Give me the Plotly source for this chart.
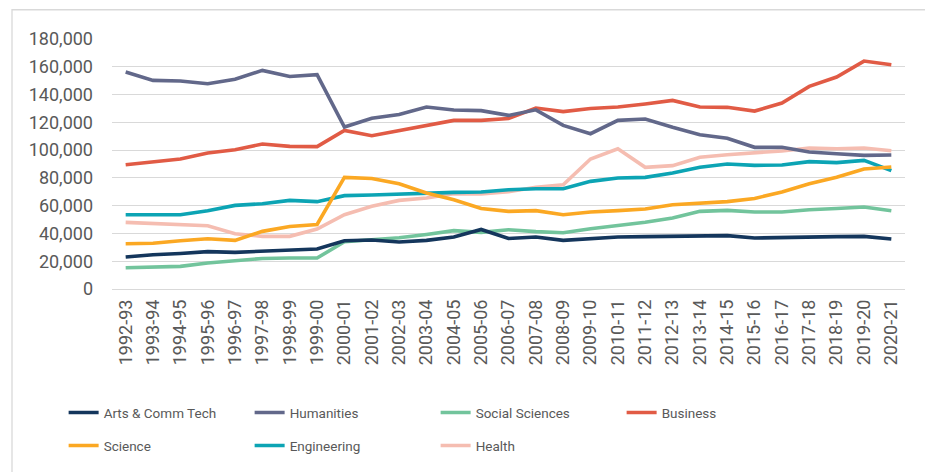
import plotly.graph_objects as go

years = ["1992-93", "1993-94", "1994-95", "1995-96", "1996-97", "1997-98", "1998-99",
         "1999-00", "2000-01", "2001-02", "2002-03", "2003-04", "2004-05", "2005-06",
         "2006-07", "2007-08", "2008-09", "2009-10", "2010-11", "2011-12", "2012-13",
         "2013-14", "2014-15", "2015-16", "2016-17", "2017-18", "2018-19", "2019-20",
         "2020-21"]

arts = [23000, 24700, 25600, 26900, 26400, 27100, 27800, 28800, 34800, 35300, 33800,
        35000, 37400, 42900, 36400, 37400, 35000, 36400, 37400, 37700, 37900, 38100,
        38400, 36700, 37200, 37700, 37700, 37900, 36000]
humanities = [156200, 150200, 149800, 147800, 151000, 157400, 153000, 154300, 116600,
              123000, 125700, 131000, 128900, 128400, 125000, 129000, 117800, 111800,
              121400, 122400, 116400, 111000, 108500, 102000, 102000, 98600, 97400,
              96200, 96500]
social = [15300, 16000, 16300, 18700, 20400, 22000, 22300, 22300, 34000, 35500, 36900,
          39300, 42000, 40800, 42700, 41300, 40500, 43400, 45800, 48000, 51100, 55900,
          56600, 55400, 55400, 57100, 58000, 59000, 56400]
business = [89500, 91400, 93600, 97900, 100300, 104400, 102700, 102500, 114200, 110400,
            114200, 118000, 121400, 121400, 122800, 130300, 127700, 130000, 131000,
            133200, 135800, 131000, 130800, 128100, 133900, 145900, 152600, 164100,
            161500]
science = [32600, 32900, 34800, 36200, 35000, 41500, 45000, 46500, 80400, 79600, 75800,
           69100, 64300, 58000, 55900, 56400, 53500, 55400, 56400, 57600, 60700, 61900,
           62900, 65200, 69800, 75800, 80400, 86400, 87800]
engineering = [53500, 53500, 53500, 56400, 60200, 61400, 63800, 62900, 67200, 67700,
               68400, 69100, 69600, 69800, 71500, 72200, 72200, 77500, 79900, 80400,
               83500, 87600, 90000, 89000, 89300, 91700, 91000, 92600, 85200]
health = [48000, 47000, 46300, 45600, 39800, 37900, 37900, 43200, 53500, 59500, 63800,
          65500, 68600, 68400, 70000, 73200, 75100, 93600, 101000, 87600, 88800, 94800,
          96700, 97900, 99400, 101500, 101000, 101500, 99600]

y_ticks = [0, 20000, 40000, 60000, 80000, 100000, 120000, 140000, 160000, 180000]

series = [
    ("Arts & Comm Tech", arts, "#14365c", "legend"),
    ("Humanities", humanities, "#62688a", "legend"),
    ("Social Sciences", social, "#72c49c", "legend"),
    ("Business", business, "#e15b45", "legend"),
    ("Science", science, "#fba823", "legend2"),
    ("Engineering", engineering, "#0ca4b4", "legend2"),
    ("Health", health, "#f5bdb1", "legend2"),
]

fig = go.Figure()
# draw back-to-front the way the excel chart stacks them
order = [6, 5, 4, 3, 2, 1, 0]
for i in order:
    name, vals, col, leg = series[i]
    fig.add_trace(go.Scatter(
        x=years, y=vals, name=name, mode="lines",
        line=dict(color=col, width=3.6),
        legend=leg, legendrank=i,
    ))

legend_common = dict(
    orientation="h", xanchor="left", yanchor="middle",
    entrywidth=141, entrywidthmode="pixels",
    font=dict(family="Roboto", size=13.5, color="#595959"),
    bgcolor="rgba(0,0,0,0)", traceorder="normal",
)

# page body has an 8px margin, so the margins are trimmed by 8
fig.update_layout(
    width=933, height=472,
    margin=dict(l=104, r=36, t=31, b=191),
    paper_bgcolor="white", plot_bgcolor="white",
    font=dict(family="Roboto", size=18, color="#595959"),
    showlegend=True,
    legend=dict(x=-0.061, y=-0.495, **legend_common),
    legend2=dict(x=-0.061, y=-0.627, **legend_common),
    xaxis=dict(
        type="category", range=[-0.5, len(years) - 0.5],
        tickangle=-90, showgrid=False, showline=False, zeroline=False,
        ticks="", ticklabelstandoff=6,
        tickfont=dict(family="Roboto", size=18, color="#595959"),
    ),
    yaxis=dict(
        range=[0, 180000], tickvals=y_ticks, tickformat=",",
        showgrid=True, gridcolor="#d9d9d9", gridwidth=1.3,
        zeroline=True, zerolinecolor="#d9d9d9", zerolinewidth=1.3,
        showline=False, ticks="", ticklabelstandoff=18,
        tickfont=dict(family="Roboto", size=18, color="#595959"),
    ),
    shapes=[dict(
        type="rect", xref="paper", yref="paper",
        x0=-0.1261, x1=1.0277, y0=-0.78, y1=1.117,
        line=dict(color="#d9d9d9", width=1.3), fillcolor="rgba(0,0,0,0)",
        layer="below",
    )],
)

fig.write_html("out.html")
